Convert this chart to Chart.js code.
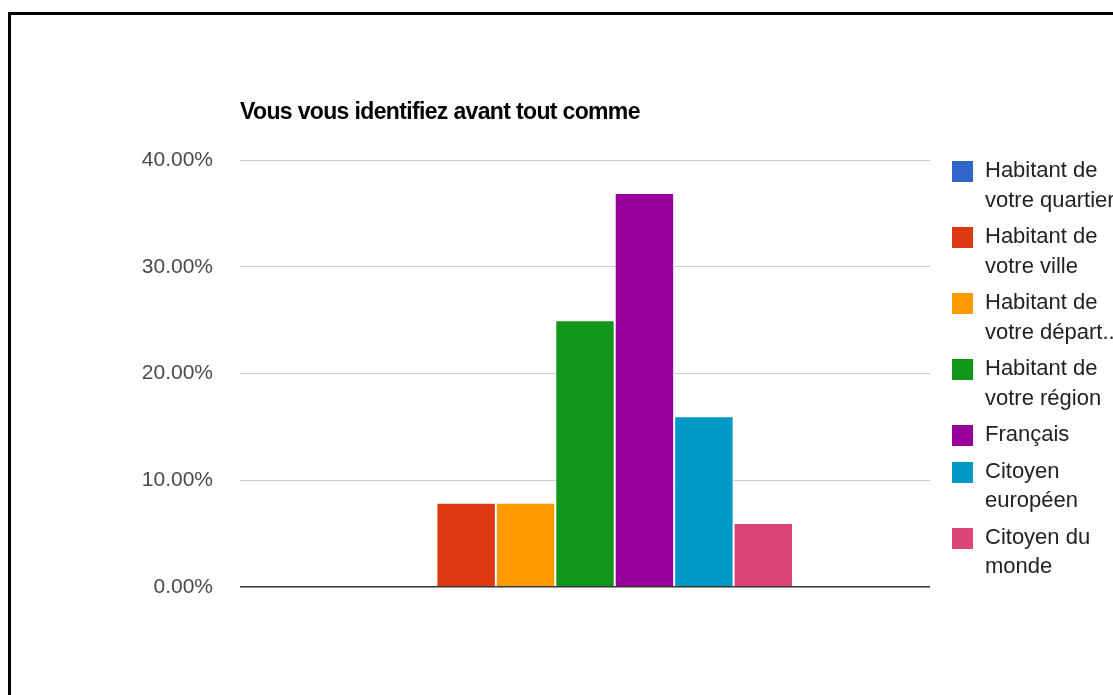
<!DOCTYPE html>
<html>
<head>
<meta charset="utf-8">
<script src="https://cdn.jsdelivr.net/npm/chart.js@4.4.0/dist/chart.umd.min.js"></script>
<style>
  html, body { margin: 0; background: #fff; overflow: hidden; }
  body { font-family: "Liberation Sans", Arial, sans-serif; }
  #frame { position: absolute; left: 8px; top: 12px; width: 1200px; height: 800px; border-left: 3px solid #000; border-top: 3px solid #000; }
  #chart { position: absolute; left: 0; top: 0; }
  #legend { position: absolute; left: 952px; top: 155px; font-size: 22px; color: #222; }
  .item { display: flex; margin-bottom: 7px; }
  .box { width: 19px; height: 19px; border: 1px solid; margin-top: 6px; margin-right: 12px; flex: none; }
  .text { line-height: 29.5px; white-space: nowrap; }
</style>
</head>
<body>
<div id="frame"></div>
<canvas id="chart" width="1113" height="695"></canvas>
<div id="legend"></div>
<script>
// chart data
const chartTitle = 'Vous vous identifiez avant tout comme';
const categories = [''];
const seriesNames = [
    'Habitant de votre quartier',
    'Habitant de votre ville',
    'Habitant de votre département',
    'Habitant de votre région',
    'Français',
    'Citoyen européen',
    'Citoyen du monde'
];
// legend text as Google wrapped it
const legendLines = [
    ['Habitant de', 'votre quartier'],
    ['Habitant de', 'votre ville'],
    ['Habitant de', 'votre départ...'],
    ['Habitant de', 'votre région'],
    ['Français'],
    ['Citoyen', 'européen'],
    ['Citoyen du', 'monde']
];
const values = [0, 7.9, 7.9, 25, 36.9, 16, 6];
const colors = ['#3366cc', '#dc3912', '#ff9900', '#109618', '#990099', '#0099c6', '#dd4477'];
const yMin = 0;
const yMax = 40;
const yStep = 10;

const FONT = '"Liberation Sans", Arial, sans-serif';

// draws the title left-aligned on the plot area
const titlePlugin = {
    id: 'leftTitle',
    afterDraw(chart) {
        const ctx = chart.ctx;
        ctx.save();
        ctx.font = 'bold 23px ' + FONT;
        ctx.letterSpacing = '-0.65px';
        ctx.fillStyle = '#000';
        ctx.textAlign = 'left';
        ctx.textBaseline = 'middle';
        ctx.fillText(chartTitle, chart.chartArea.left, 113);
        ctx.restore();
    }
};

const datasets = seriesNames.map((name, i) => ({
    label: name,
    data: [values[i]],
    backgroundColor: colors[i],
    borderColor: '#fff',
    borderWidth: 1,
    categoryPercentage: 0.603,
    barPercentage: 1
}));

const chart = new Chart(document.getElementById('chart').getContext('2d'), {
    type: 'bar',
    data: { labels: categories, datasets: datasets },
    plugins: [titlePlugin],
    options: {
        responsive: false,
        devicePixelRatio: 1,
        animation: false,
        layout: { padding: { left: 0, top: 160, right: 183, bottom: 108 } },
        plugins: {
            legend: { display: false },
            title: { display: false },
            tooltip: { enabled: false }
        },
        scales: {
            x: {
                grid: { display: false },
                border: { display: false },
                ticks: { display: false },
                afterFit: s => { s.height = 0; }
            },
            y: {
                min: yMin,
                max: yMax,
                ticks: {
                    stepSize: yStep,
                    padding: 27,
                    color: '#4a4a4a',
                    font: { family: FONT, size: 21 },
                    callback: v => v.toFixed(2) + '%'
                },
                grid: {
                    drawTicks: false,
                    color: c => c.tick && c.tick.value === 0 ? '#333' : '#ccc',
                    lineWidth: c => c.tick && c.tick.value === 0 ? 1.5 : 1
                },
                border: { display: false },
                afterFit: s => { s.width = 240; }
            }
        }
    }
});

// html legend built from the chart datasets
const legendEl = document.getElementById('legend');
chart.data.datasets.forEach((ds, i) => {
    const item = document.createElement('div');
    item.className = 'item';
    const box = document.createElement('div');
    box.className = 'box';
    box.style.background = ds.backgroundColor;
    box.style.borderColor = ds.backgroundColor;
    const text = document.createElement('div');
    text.className = 'text';
    text.innerHTML = legendLines[i].join('<br>');
    item.appendChild(box);
    item.appendChild(text);
    legendEl.appendChild(item);
});
</script>
</body>
</html>
